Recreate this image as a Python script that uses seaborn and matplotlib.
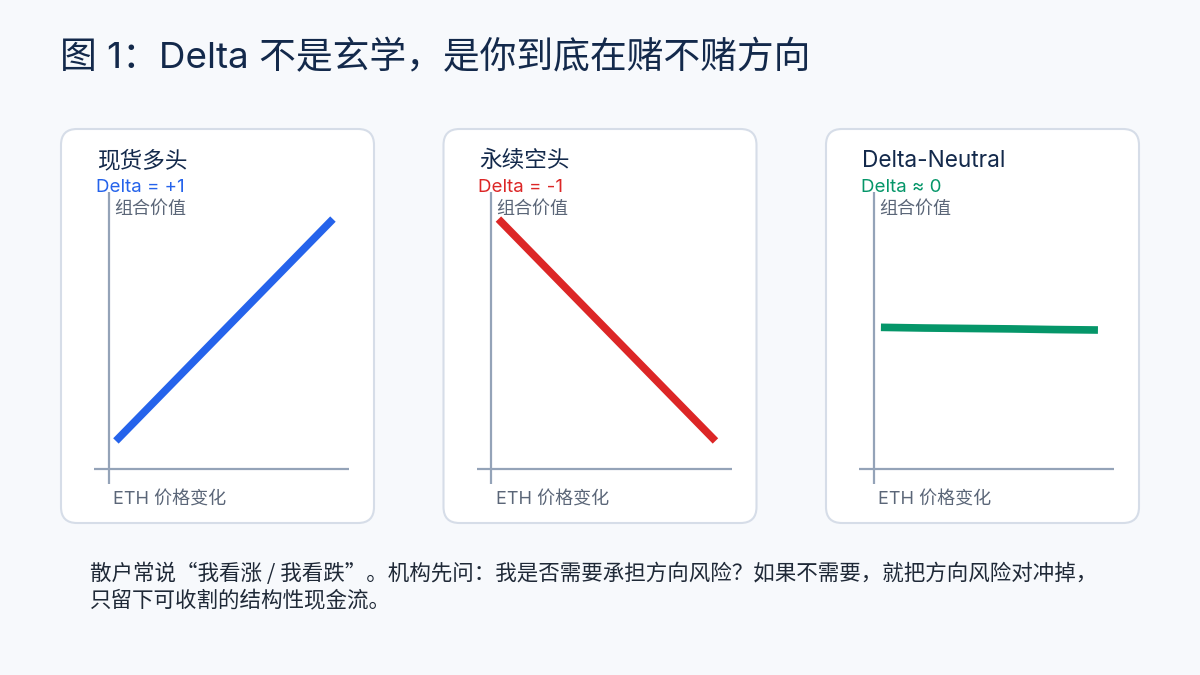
'''
Delta exposure comparison: spot long / perp short / delta-neutral
Output: out.png
'''

import numpy as np
import pandas as pd
import seaborn as sns
import matplotlib.pyplot as plt
from matplotlib.patches import FancyBboxPatch

# data
price_change = [-50, -30, -10, 10, 30, 50]
spot_long = [-50, -30, -10, 10, 30, 50]
perp_short = [50, 30, 10, -10, -30, -50]
delta_neutral = [1.2, 0.9, 0.7, 0.5, 0.2, 0.0]

panel_titles = ['现货多头', '永续空头', 'Delta-Neutral']
delta_labels = ['Delta = +1', 'Delta = -1', 'Delta ≈ 0']
line_colors = ['#2563eb', '#dc2626', '#059669']
series = [spot_long, perp_short, delta_neutral]

title = '图 1：Delta 不是玄学，是你到底在赌不赌方向'
note_1 = '散户常说“我看涨 / 我看跌”。机构先问：我是否需要承担方向风险？如果不需要，就把方向风险对冲掉，'
note_2 = '只留下可收割的结构性现金流。'
y_label = '组合价值'
x_label = 'ETH 价格变化'

# plot settings
sns.set_theme(style="white")
plt.rcParams['font.family'] = ['Inter', 'Noto Sans CJK SC', 'DejaVu Sans']
CJK_FIRST = ['Noto Sans CJK SC', 'DejaVu Sans']

BG = '#f7f9fc'
NAVY = '#13294b'
GREY = '#5b6678'
AXIS = '#94a3b8'
BORDER = '#d6dde8'

W, H = 1200, 675
fig = plt.figure(figsize=(12, 6.75), dpi=100, facecolor=BG)

# background layer in pixel coords
bg = fig.add_axes([0, 0, 1, 1], zorder=0)
bg.set_xlim(0, W)
bg.set_ylim(H, 0)
bg.axis('off')

bg.text(60, 58, title, fontsize=26.5, color=NAVY, va='center', ha='left')

step = 382.5
for i in range(3):
    off = i * step
    box = FancyBboxPatch((61 + off, 129), 313, 394,
                         boxstyle='round,pad=0,rounding_size=16',
                         facecolor='white', edgecolor=BORDER, linewidth=1.5)
    bg.add_patch(box)
    bg.text(97 + off, 161, panel_titles[i], fontsize=16.3, color=NAVY, va='center', ha='left')
    bg.text(96 + off, 188, delta_labels[i], fontsize=13.5, color=line_colors[i],
            va='center', ha='left', zorder=5)
    bg.text(114 + off, 209, y_label, fontsize=13, color=GREY, va='center', ha='left')
    bg.text(113 + off, 500, x_label, fontsize=13, color=GREY, va='center', ha='left')

    df = pd.DataFrame({'price': price_change, 'value': series[i]})
    ax = fig.add_axes([(94 + off) / W, 1 - 484 / H, 255 / W, 292 / H], zorder=1)
    ax.patch.set_alpha(0)
    ax.axhline(-62.6, color=AXIS, linewidth=1.6)
    ax.axvline(-53.2, color=AXIS, linewidth=1.6)
    sns.lineplot(data=df, x='price', y='value', ax=ax, color=line_colors[i],
                 linewidth=5.5, solid_capstyle='butt')
    ax.set_xlim(-60.1, 57.4)
    ax.set_ylim(-69.4, 62.2)
    ax.set_xticks([])
    ax.set_yticks([])
    ax.set_xlabel('')
    ax.set_ylabel('')
    for s in ax.spines.values():
        s.set_visible(False)

bg.text(90, 574, note_1, fontsize=15.5, color='#1f2937', va='center', ha='left',
        family=CJK_FIRST)
bg.text(90, 601, note_2, fontsize=15.5, color='#1f2937', va='center', ha='left',
        family=CJK_FIRST)

fig.savefig('out.png', dpi=100, facecolor=BG)
plt.close(fig)
